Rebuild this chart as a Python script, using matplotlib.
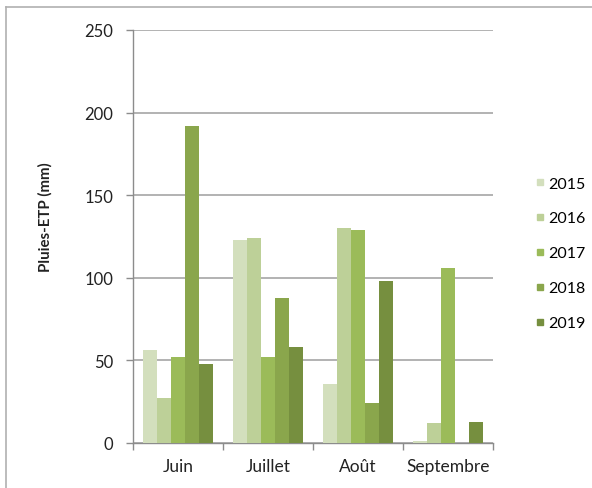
import matplotlib
matplotlib.use("Agg")
import matplotlib.pyplot as plt
from matplotlib.lines import Line2D
import numpy as np

plt.rcParams['font.family'] = ['Lato', 'DejaVu Sans']

categories = ["Juin", "Juillet", "Août", "Septembre"]
years = ["2015", "2016", "2017", "2018", "2019"]
values = {
    "2015": [56, 123, 36, 1],
    "2016": [27, 124, 130, 12],
    "2017": [52, 52, 129, 106],
    "2018": [192, 88, 24, 0],
    "2019": [48, 58, 98, 13],
}
colors = ["#d3dfbd", "#bdd098", "#9bbb59", "#8aa64c", "#768f3f"]
yticks = [0, 50, 100, 150, 200, 250]

W, H = 592, 489
fig = plt.figure(figsize=(W / 100, H / 100), dpi=100)
ax = fig.add_axes([133 / W, 1 - 444 / H, (493 - 133) / W, (444 - 31) / H])

x = np.arange(len(categories))
bw = 0.156
for j, yr in enumerate(years):
    ax.bar(x + (j - 2) * bw, values[yr], width=bw, color=colors[j], label=yr,
           linewidth=0, zorder=3)

ax.set_xlim(-0.5, len(categories) - 0.5)
ax.set_ylim(0, 250)
ax.set_yticks(yticks)
ax.set_yticklabels([str(v) for v in yticks], fontsize=12, color="#222222")
ax.yaxis.grid(True, color="#a6a6a6", linewidth=1.2, zorder=0)
ax.set_axisbelow(True)

ax.set_xticks(x)
ax.set_xticklabels(categories, fontsize=12.5, color="#222222")
ax.tick_params(axis='x', which='major', length=0, pad=11)
ax.set_xticks(np.arange(-0.5, len(categories), 1), minor=True)
ax.tick_params(axis='x', which='minor', length=5, color="#8c8c8c", width=1)
ax.tick_params(axis='y', length=5, color="#8c8c8c", width=1, pad=9)

for s in ["top", "right"]:
    ax.spines[s].set_visible(False)
for s in ["left", "bottom"]:
    ax.spines[s].set_color("#8c8c8c")
    ax.spines[s].set_linewidth(1)

fig.text(45 / W, 1 - 217.5 / H, "Pluies-ETP (mm)", fontsize=10.8, fontweight="bold",
         color="#222222", rotation=90, ha="center", va="center")

handles = [Line2D([0], [0], marker='s', linestyle='none', markersize=5,
                  markerfacecolor=c, markeredgecolor=c) for c in colors]
leg = fig.legend(handles, years, loc="upper left",
                 bbox_to_anchor=(522 / W, 1 - 163 / H), frameon=False,
                 fontsize=11.5, labelspacing=1.3, handletextpad=0.24,
                 handlelength=0.5)

# outer chart border (top and left visible)
fig.add_artist(Line2D([6 / W, 1], [1 - 8 / H, 1 - 8 / H], color="#b0b0b0",
                      linewidth=1.2, transform=fig.transFigure))
fig.add_artist(Line2D([6 / W, 6 / W], [0, 1 - 8 / H], color="#b0b0b0",
                      linewidth=1.2, transform=fig.transFigure))

fig.savefig("out.png", dpi=100)
